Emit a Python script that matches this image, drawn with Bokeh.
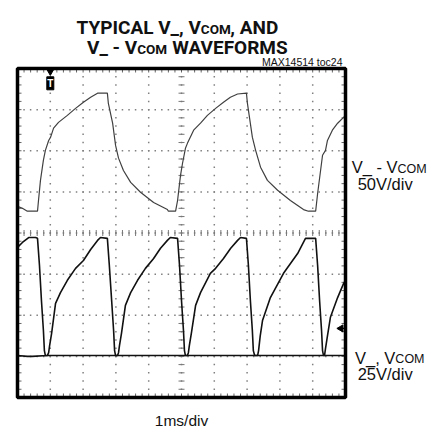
import numpy as np
from bokeh.plotting import figure
from bokeh.models import Label, Range1d
from bokeh.embed import file_html
from bokeh.resources import INLINE

# ---- data (time in ms = divisions, amplitude in screen divisions) ----
top_t = [0, 0.15, 0.30, 0.61, 0.64, 0.70, 0.79, 0.85, 0.95, 1.01, 1.10, 1.25, 1.52, 1.77,
         2.01, 2.23, 2.44, 2.74, 2.77, 2.90, 2.99, 3.08, 3.23, 3.45, 3.75, 4.15, 4.57, 4.60,
         4.82, 4.88, 4.97, 5.03, 5.12, 5.18, 5.37, 5.58, 5.79, 6.04, 6.28, 6.49, 6.71, 6.98,
         7.01, 7.16, 7.26, 7.41, 7.62, 7.93, 8.32, 8.72, 8.87, 9.09, 9.15, 9.24, 9.30, 9.39,
         9.45, 9.60, 9.76, 9.94, 10.0]
top_v = [4.65, 4.60, 4.53, 4.53, 4.79, 5.28, 5.77, 6.01, 6.25, 6.33, 6.55, 6.69, 6.86, 7.03,
         7.18, 7.30, 7.40, 7.40, 7.15, 6.67, 6.13, 5.82, 5.52, 5.23, 4.99, 4.74, 4.57, 4.53,
         4.53, 4.79, 5.40, 5.69, 6.06, 6.18, 6.50, 6.67, 6.86, 7.03, 7.18, 7.30, 7.38, 7.40,
         7.15, 6.33, 6.01, 5.60, 5.28, 5.04, 4.79, 4.57, 4.53, 4.53, 4.96, 5.52, 5.89, 6.01,
         6.25, 6.50, 6.67, 6.81, 6.86]

a_t = [0, 0.30, 0.45, 0.91, 0.95, 0.98, 1.04, 1.16, 1.31, 1.52, 1.77, 2.01, 2.23, 2.44, 2.53,
       2.74, 2.80, 2.87, 2.93, 2.96, 2.99, 5.18, 5.21, 5.24, 5.30, 5.43, 5.58, 5.88, 6.04,
       6.28, 6.50, 6.71, 6.80, 6.98, 7.04, 7.10, 7.16, 7.19, 7.23, 9.36, 9.39, 9.45, 9.54,
       9.76, 9.94, 10.0]
a_v = [1.02, 1.00, 1.00, 1.02, 1.09, 1.27, 1.56, 2.29, 2.55, 2.85, 3.14, 3.33, 3.60, 3.82,
       3.89, 3.87, 3.21, 2.36, 1.63, 1.14, 1.02, 1.02, 1.09, 1.27, 1.56, 2.24, 2.55, 3.02,
       3.14, 3.38, 3.63, 3.82, 3.89, 3.87, 3.21, 2.36, 1.63, 1.14, 1.02, 1.02, 1.19, 1.50,
       1.95, 2.43, 2.77, 2.85]

b_t = [0, 0.15, 0.34, 0.55, 0.61, 0.67, 0.73, 0.79, 0.82, 0.85, 3.05, 3.08, 3.11, 3.17,
       3.29, 3.45, 3.66, 3.90, 4.15, 4.36, 4.57, 4.66, 4.88, 4.94, 5.00, 5.06, 5.09, 5.12,
       7.32, 7.35, 7.40, 7.47, 7.71, 8.11, 8.54, 8.78, 9.09, 9.15, 9.21, 9.27, 9.30, 9.33, 10.0]
b_v = [3.65, 3.77, 3.89, 3.89, 3.87, 3.21, 2.36, 1.63, 1.14, 1.02, 1.02, 1.09, 1.27, 1.56,
       2.24, 2.55, 2.85, 3.14, 3.38, 3.63, 3.82, 3.89, 3.87, 3.21, 2.36, 1.63, 1.14, 1.02,
       1.02, 1.14, 1.50, 1.87, 2.43, 3.02, 3.50, 3.87, 3.87, 3.21, 2.36, 1.63, 1.14, 1.02, 1.02]

x_divs = 10
y_divs = 8
trigger_ms = 1.0
ch_ref_div = 1.68

# ---- layout (pixels) ----
W, H = 442, 429
scope_l, scope_r, scope_t, scope_b = 17, 345, 68, 397
pxx = (scope_r - scope_l) / x_divs
pxy = (scope_b - scope_t) / y_divs
xr = Range1d(-scope_l / pxx, (W - scope_l) / pxx)
yr = Range1d(-(H - scope_b) / pxy, y_divs + scope_t / pxy)

p = figure(width=W, height=H, x_range=xr, y_range=yr,
           output_backend="svg", toolbar_location=None, title=None,
           x_axis_location=None, y_axis_location=None,
           min_border_left=0, min_border_right=0, min_border_top=0, min_border_bottom=0)
p.grid.visible = False
p.outline_line_color = None
p.background_fill_color = "white"
p.border_fill_color = "white"

# graticule dots
mx = np.round(np.arange(0, x_divs + 0.001, 0.2), 3)
my = np.round(np.arange(0, y_divs + 0.001, 0.2), 3)
gx, gy = [], []
for i in range(1, x_divs):
    gx += [i] * len(my); gy += list(my)
for j in range(1, y_divs):
    gx += list(mx); gy += [j] * len(mx)
p.scatter(gx, gy, marker="square", size=1.5, color="#808080", line_width=0)

# centre line ticks
cx, cy = x_divs / 2, y_divs / 2
p.scatter(mx, [cy] * len(mx), marker="dash", angle=np.pi / 2, size=6, line_color="#777", line_width=1)
p.scatter([cx] * len(my), my, marker="dash", size=6, line_color="#777", line_width=1)
# edge ticks (inward)
tl_x = 4 / pxx
tl_y = 4 / pxy
p.segment(mx, [0] * len(mx), mx, [tl_y] * len(mx), line_color="#666", line_width=1)
p.segment(mx, [y_divs] * len(mx), mx, [y_divs - tl_y] * len(mx), line_color="#666", line_width=1)
p.segment([0] * len(my), my, [tl_x] * len(my), my, line_color="#666", line_width=1)
p.segment([x_divs] * len(my), my, [x_divs - tl_x] * len(my), my, line_color="#666", line_width=1)

# traces
p.line(top_t, top_v, line_color="#404040", line_width=1.2)
p.line(a_t, a_v, line_color="#111111", line_width=1.6)
p.line(b_t, b_v, line_color="#111111", line_width=1.6)

# scope frame
p.quad(left=[0], right=[x_divs], bottom=[0], top=[y_divs], fill_alpha=0,
       line_color="black", line_width=3.5)

# trigger marker
p.scatter([trigger_ms], [7.93], marker="inverted_triangle", size=7, color="black")
p.rect([trigger_ms], [7.64], width=7, height=13, width_units="screen", height_units="screen",
       fill_color="black", line_color="black")
p.add_layout(Label(x=trigger_ms, y=7.64, text="T", text_color="white", text_font="Liberation Sans",
                   text_font_style="bold", text_font_size="10px", text_align="center",
                   text_baseline="middle"))
# channel reference arrow
p.scatter([9.86], [ch_ref_div], marker="triangle", angle=np.pi / 2, size=7, color="black")
p.segment([9.86], [ch_ref_div], [x_divs], [ch_ref_div], line_color="black", line_width=1.2)

# ---- texts ----
def lab(x, y, t, size, align="left", bold=False, font="Liberation Sans"):
    p.add_layout(Label(x=x, y=y, text=t, text_font=font, text_font_size=size,
                       text_font_style="bold" if bold else "normal", text_color="#111",
                       text_align=align, text_baseline="alphabetic"))

TF = "Roboto"
lab(5.59, 9.00, "TYPICAL V_, V", "19px", "right", True, TF)
lab(5.59, 8.95, "COM", "13.5px", "left", True, TF)
lab(6.49, 9.00, ", AND", "19px", "left", True, TF)
lab(3.65, 8.52, "V_ - V", "19px", "right", True, TF)
lab(3.65, 8.47, "COM", "13.5px", "left", True, TF)
lab(4.72, 8.52, "WAVEFORMS", "19px", "left", True, TF)
lab(9.91, 8.15, "MAX14514 toc24", "10.5px", "right")

lab(11.585, 5.60, "V_ - V", "16.5px", "right")
lab(11.585, 5.56, "COM", "12.5px", "left")
lab(10.37, 5.18, "50V/div", "16.5px", "left")
lab(11.52, 0.97, "V_, V", "16.5px", "right")
lab(11.52, 0.93, "COM", "12.5px", "left")
lab(10.37, 0.56, "25V/div", "16.5px", "left")
lab(5.0, -0.56, "1ms/div", "15.5px", "center")

open("out.html", "w").write(file_html(p, INLINE))
